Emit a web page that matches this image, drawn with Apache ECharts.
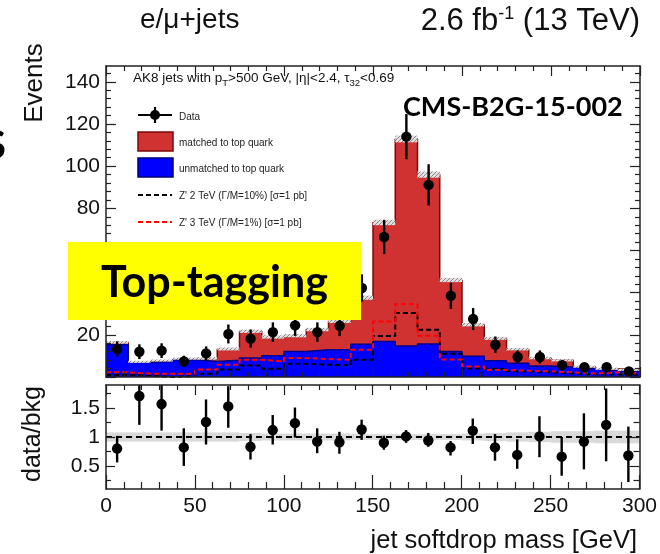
<!DOCTYPE html>
<html><head><meta charset="utf-8">
<script src="https://cdn.jsdelivr.net/npm/echarts@6/dist/echarts.min.js"></script>
<style>html,body{margin:0;padding:0;background:#fff}#c{width:660px;height:554px}</style>
</head><body><div id="c"></div>
<script>
// ---- data ----
const binEdges = [0,12.5,25,37.5,50,62.5,75,87.5,100,112.5,125,137.5,150,162.5,175,187.5,200,212.5,225,237.5,250,262.5,275,287.5,300];
const dataEvents = [13.3,12.0,12.5,7.4,11.2,20.4,18.2,21.3,24.5,21.3,24.3,42.2,66.4,114.0,91.1,38.5,27.5,15.3,9.5,9.5,5.6,4.6,4.6,2.6];
const dataErr = [3.6,3.5,3.5,2.7,3.3,4.5,4.3,4.6,5.0,4.6,4.9,6.5,8.1,10.7,9.8,6.2,5.2,3.9,3.1,3.1,2.4,2.1,2.1,1.6];
const unmatched = [15.3,6.9,7.2,8.2,7.4,7.9,9.0,10.1,12.1,12.9,12.9,15.5,16.8,14.7,15.7,12.1,9.8,7.7,6.5,5.2,4.7,3.8,3.1,2.6];
const matched = [1.1,0.3,0.6,0.5,1.4,5.4,12.7,8.9,7.5,9.6,13.6,22.1,56.5,98.2,80.3,33.9,15.0,10.6,6.7,3.8,3.2,1.1,0.8,0.8];
const bkgUnc = [0.6,0.5,0.5,0.5,0.6,0.7,0.8,0.8,0.8,0.8,0.9,1.0,1.3,1.6,1.5,1.0,0.8,0.7,0.6,0.6,0.5,0.5,0.5,0.5];
const zp2TeV = [1.0,0.6,0.0,0.4,1.6,3.5,5.4,3.9,6.3,5.8,5.5,8.2,19.4,30.3,22.4,11.0,4.0,3.8,2.7,2.2,1.7,1.2,1.2,1.0];
const zp3TeV = [2.2,1.6,1.6,1.6,3.5,5.8,8.2,7.4,9.0,8.5,8.2,12.9,26.3,34.6,19.6,8.3,5.0,3.3,3.0,2.7,2.2,1.7,2.2,1.7];
const ratio   = [0.80,1.71,1.57,0.82,1.26,1.53,0.83,1.12,1.24,0.92,0.91,1.13,0.90,1.01,0.94,0.82,1.11,0.82,0.69,1.01,0.66,0.92,1.21,0.68];
const ratioHi = [1.02,1.95,1.95,1.15,1.65,1.88,1.05,1.38,1.51,1.15,1.09,1.30,1.02,1.12,1.07,0.93,1.32,1.05,0.96,1.36,1.00,1.41,1.84,1.18];
const ratioLo = [0.56,1.21,1.11,0.50,0.87,1.16,0.61,0.87,0.99,0.72,0.71,0.95,0.78,0.90,0.83,0.68,0.88,0.59,0.45,0.65,0.33,0.44,0.58,0.22];
const ratioUnc = [0.08,0.08,0.08,0.08,0.08,0.08,0.07,0.06,0.06,0.06,0.06,0.05,0.05,0.05,0.05,0.05,0.06,0.07,0.08,0.09,0.10,0.10,0.11,0.11];
const mainYTicks = [0,20,40,60,80,100,120,140];
const mainYLabels = [20,40,60,80,100,120,140];
const ratioYTicks = [0.5,1,1.5];
const ratioYMinor = [0.25,0.75,1.25,1.75];
const xTicks = [0,50,100,150,200,250,300];

// ---- helpers ----
const nb = dataEvents.length;
const centers = dataEvents.map((_, i) => (binEdges[i] + binEdges[i+1]) / 2);
const stackTot = unmatched.map((u, i) => u + matched[i]);
const stepData = arr => binEdges.map((e, i) => [e, arr[Math.min(i, nb-1)]]);
const mainMinor = [];
for (let i = 0; i < mainYTicks.length; i++) for (let k = 1; k < 5; k++) mainMinor.push(mainYTicks[i] + k*4);

const pc = document.createElement('canvas'); pc.width = 4; pc.height = 4;
const g = pc.getContext('2d'); g.fillStyle = '#e4dede'; g.fillRect(0,0,4,4);
g.strokeStyle = '#8a8a8a'; g.lineWidth = 1; g.beginPath(); g.moveTo(0,4); g.lineTo(4,0); g.stroke();

const FONT = "'Liberation Sans', Arial, sans-serif";
const AX = {color:'#222', width:1.5};
const TK = {color:'#222', width:1.2};

function pointRender(params, api) {
  const x = api.value(0), y = api.value(1), lo = api.value(2), hi = api.value(3);
  const c = api.coord([x, y]), pl = api.coord([x, lo]), ph = api.coord([x, hi]);
  const cs = params.coordSys, top = cs.y, bot = cs.y + cs.height;
  const cl = v => Math.max(top, Math.min(bot, v));
  const ch = [{type:'line', shape:{x1:c[0], y1:cl(ph[1]), x2:c[0], y2:cl(pl[1])}, style:{stroke:'#000', lineWidth:2.4}}];
  if (c[1] >= top && c[1] <= bot) ch.push({type:'circle', shape:{cx:c[0], cy:c[1], r:5.2}, style:{fill:'#000'}});
  return {type:'group', children:ch};
}
function bandRender(fill) {
  return function(params, api) {
    const p0 = api.coord([api.value(0), api.value(3)]), p1 = api.coord([api.value(1), api.value(2)]);
    return {type:'rect', shape:{x:p0[0], y:p0[1], width:p1[0]-p0[0], height:p1[1]-p0[1]}, style:{fill:fill}};
  };
}

function xAx(grid, pos, len, mlen, labels) {
  return {gridIndex:grid, type:'value', min:0, max:300, interval:50, position:pos, z:10,
    axisLine:{show:true, onZero:false, lineStyle:AX},
    axisTick:{show:true, inside:true, length:len, lineStyle:TK},
    minorTick:{show:true, splitNumber:5, length:mlen, lineStyle:TK},
    splitLine:{show:false}, minorSplitLine:{show:false},
    axisLabel:{show:labels, fontSize:21, fontFamily:FONT, color:'#111', margin:7, customValues: labels ? xTicks : undefined}};
}
function yAx(grid, pos, min, max, ticks, len, labels, showLine) {
  return {gridIndex:grid, type:'value', min:min, max:max, position:pos, z:10,
    axisLine:{show:showLine, onZero:false, lineStyle:AX},
    axisTick:{show:true, inside:true, length:len, lineStyle:TK, customValues:ticks},
    splitLine:{show:false},
    axisLabel: labels ? {show:true, fontSize:21, fontFamily:FONT, color:'#111', margin:6, customValues:labels} : {show:false, customValues:ticks}};
}

const chart = echarts.init(document.getElementById('c'), null, {renderer:'canvas'});
const option = {
  animation:false,
  backgroundColor:'#fff',
  grid:[{left:106, top:66, width:534, height:311}, {left:106, top:385, width:534, height:104}],
  xAxis:[xAx(0,'bottom',10,5,false), xAx(0,'top',10,5,false), xAx(1,'bottom',14,7,true), xAx(1,'top',10,5,false)],
  yAxis:[
    yAx(0,'left',0,147.5,mainYTicks,10,mainYLabels,true),
    yAx(0,'left',0,147.5,mainMinor,5,null,false),
    yAx(0,'right',0,147.5,mainYTicks,10,null,true),
    yAx(0,'right',0,147.5,mainMinor,5,null,false),
    yAx(1,'left',0.1,1.9,ratioYTicks,9,ratioYTicks,true),
    yAx(1,'left',0.1,1.9,ratioYMinor,5,null,false),
    yAx(1,'right',0.1,1.9,ratioYTicks,10,null,true),
    yAx(1,'right',0.1,1.9,ratioYMinor,6,null,false)
  ],
  series:[
    {type:'line', name:'matched to top quark', xAxisIndex:0, yAxisIndex:0, step:'end', symbol:'none', z:2,
     data:stepData(stackTot), lineStyle:{color:'#7a0a0a', width:1.5}, areaStyle:{color:'#D03232', opacity:1}},
    {type:'line', name:'unmatched to top quark', xAxisIndex:0, yAxisIndex:0, step:'end', symbol:'none', z:3,
     data:stepData(unmatched), lineStyle:{color:'#00008a', width:1.5}, areaStyle:{color:'#0000FF', opacity:1}},
    {type:'custom', name:'bkg unc', xAxisIndex:0, yAxisIndex:0, z:4, renderItem:bandRender({image:pc, repeat:'repeat'}),
     data:stackTot.map((s,i)=>[binEdges[i], binEdges[i+1], s-bkgUnc[i], s+bkgUnc[i]])},
    {type:'line', name:"Z' 2 TeV", xAxisIndex:0, yAxisIndex:0, step:'end', symbol:'none', z:5,
     data:stepData(zp2TeV), lineStyle:{color:'#000', width:2, type:[5,3]}},
    {type:'line', name:"Z' 3 TeV", xAxisIndex:0, yAxisIndex:0, step:'end', symbol:'none', z:5,
     data:stepData(zp3TeV), lineStyle:{color:'#ff0000', width:2, type:[5,3]}},
    {type:'custom', name:'Data', xAxisIndex:0, yAxisIndex:0, z:6, renderItem:pointRender,
     data:dataEvents.map((v,i)=>[centers[i], v, v-dataErr[i], v+dataErr[i]])},
    {type:'custom', name:'ratio unc', xAxisIndex:2, yAxisIndex:4, z:2, renderItem:bandRender('#d9d9d9'),
     data:ratioUnc.map((u,i)=>[binEdges[i], binEdges[i+1], 1-u, 1+u])},
    {type:'line', name:'unity', xAxisIndex:2, yAxisIndex:4, symbol:'none', z:3,
     data:[[0,1],[300,1]], lineStyle:{color:'#000', width:2, type:[6,4]}},
    {type:'custom', name:'data/bkg', xAxisIndex:2, yAxisIndex:4, z:6, renderItem:pointRender,
     data:ratio.map((r,i)=>[centers[i], r, ratioLo[i], ratioHi[i]])}
  ],
  graphic:[
    {type:'text', x:140, y:34, z:20, style:{text:'e/\u03bc+jets', font:"28px "+FONT, fill:'#111', align:'left', verticalAlign:'bottom', textAlign:'left', textVerticalAlign:'bottom'}},
    {type:'text', x:640, y:38, z:20, style:{text:'2.6 fb{sup|-1} (13 TeV)', font:"31px "+FONT, fill:'#111', align:'right', verticalAlign:'bottom', textAlign:'right', textVerticalAlign:'bottom',
      rich:{sup:{fontSize:18, fontFamily:FONT, verticalAlign:'top', lineHeight:33, fill:'#111'}}}},
    {type:'text', x:35, y:83, z:20, rotation:Math.PI/2, style:{text:'Events', font:"26px "+FONT, fill:'#111', align:'center', verticalAlign:'middle', textAlign:'center', textVerticalAlign:'middle'}},
    {type:'text', x:33, y:434, z:20, rotation:Math.PI/2, style:{text:'data/bkg', font:"25px "+FONT, fill:'#111', align:'center', verticalAlign:'middle', textAlign:'center', textVerticalAlign:'middle'}},
    {type:'text', x:637, y:541, z:20, style:{text:'jet softdrop mass [GeV]', font:"25.5px "+FONT, fill:'#111', align:'right', verticalAlign:'middle', textAlign:'right', textVerticalAlign:'middle'}},
    {type:'text', x:133, y:78, z:20, style:{text:'{n|AK8 jets with p}{s|T}{n|>500 GeV, |\u03b7|<2.4, \u03c4}{s|32}{n|<0.69}', align:'left', verticalAlign:'middle', textAlign:'left', textVerticalAlign:'middle',
      rich:{n:{fontSize:13.5, fontFamily:FONT, fill:'#111', lineHeight:20, verticalAlign:'middle'}, s:{fontSize:9.5, fontFamily:FONT, fill:'#111', lineHeight:10, verticalAlign:'bottom'}}}},
    // legend
    {type:'line', z:20, shape:{x1:138, y1:115, x2:172, y2:115}, style:{stroke:'#000', lineWidth:2.2}},
    {type:'line', z:20, shape:{x1:155, y1:107, x2:155, y2:123}, style:{stroke:'#000', lineWidth:2.2}},
    {type:'circle', z:20, shape:{cx:155, cy:115, r:5}, style:{fill:'#000'}},
    {type:'text', x:179, y:117, z:20, style:{text:'Data', font:"10px "+FONT, fill:'#222', align:'left', verticalAlign:'middle', textAlign:'left', textVerticalAlign:'middle'}},
    {type:'rect', z:20, shape:{x:138, y:132, width:35, height:19}, style:{fill:'#D03232', stroke:'#7a0a0a', lineWidth:1.5}},
    {type:'text', x:179, y:143, z:20, style:{text:'matched to top quark', font:"10px "+FONT, fill:'#222', align:'left', verticalAlign:'middle', textAlign:'left', textVerticalAlign:'middle'}},
    {type:'rect', z:20, shape:{x:138, y:158, width:35, height:19}, style:{fill:'#0000FF', stroke:'#00007a', lineWidth:1.5}},
    {type:'text', x:179, y:169, z:20, style:{text:'unmatched to top quark', font:"10px "+FONT, fill:'#222', align:'left', verticalAlign:'middle', textAlign:'left', textVerticalAlign:'middle'}},
    {type:'line', z:20, shape:{x1:138, y1:195, x2:172, y2:195}, style:{stroke:'#000', lineWidth:2, lineDash:[5,3]}},
    {type:'text', x:179, y:196, z:20, style:{text:"Z' 2 TeV (\u0393/M=10%) [\u03c3=1 pb]", font:"10px "+FONT, fill:'#222', align:'left', verticalAlign:'middle', textAlign:'left', textVerticalAlign:'middle'}},
    {type:'line', z:20, shape:{x1:138, y1:222, x2:172, y2:222}, style:{stroke:'#ff0000', lineWidth:2, lineDash:[5,3]}},
    {type:'text', x:179, y:223, z:20, style:{text:"Z' 3 TeV (\u0393/M=1%) [\u03c3=1 pb]", font:"10px "+FONT, fill:'#222', align:'left', verticalAlign:'middle', textAlign:'left', textVerticalAlign:'middle'}},
    // slide overlays
    {type:'text', x:403, y:107, z:40, style:{text:'CMS-B2G-15-002', font:"bold 27px Lato, 'Open Sans', sans-serif", fill:'#000', align:'left', verticalAlign:'middle', textAlign:'left', textVerticalAlign:'middle'}},
    {type:'rect', z:40, shape:{x:68, y:242, width:293, height:78}, style:{fill:'#FFFF00'}},
    {type:'text', x:101, y:283, z:41, style:{text:'Top-tagging', font:"bold 43px Lato, 'Open Sans', sans-serif", fill:'#000', align:'left', verticalAlign:'middle', textAlign:'left', textVerticalAlign:'middle'}},
    {type:'text', x:6, y:146, z:41, style:{text:'S', font:"bold 40px Lato, 'Open Sans', sans-serif", fill:'#000', align:'right', verticalAlign:'middle', textAlign:'right', textVerticalAlign:'middle'}}
  ]
};
chart.setOption(option);
</script></body></html>
